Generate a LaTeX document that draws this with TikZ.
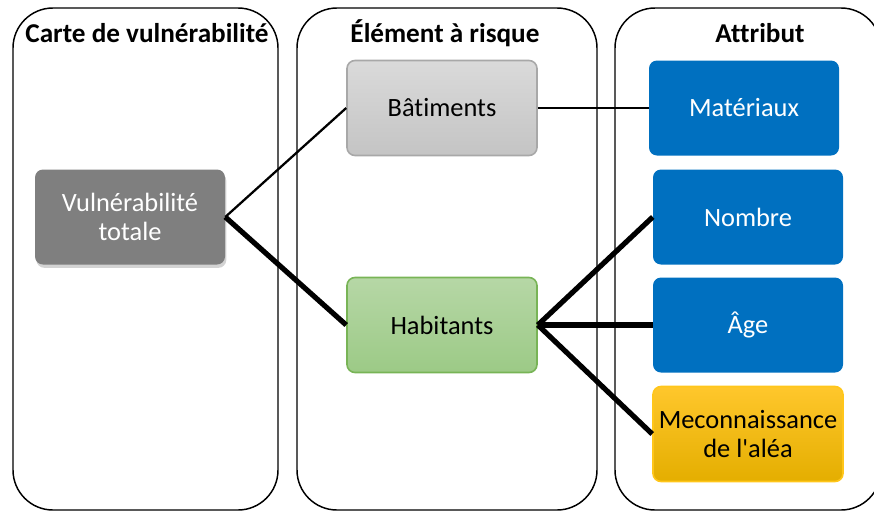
\documentclass[tikz,border=0pt]{standalone}
\usepackage{fontspec}
\setmainfont{Carlito}[Ligatures={NoCommon}]
\usepackage{xcolor}
\usepackage{tikz}
\usetikzlibrary{shadows}

\definecolor{vulngray}{HTML}{7F7F7F}
\definecolor{battop}{HTML}{DADADA}
\definecolor{batbot}{HTML}{C4C4C4}
\definecolor{batline}{HTML}{A8A8A8}
\definecolor{habtop}{HTML}{B6D7A6}
\definecolor{habbot}{HTML}{9CCA86}
\definecolor{habline}{HTML}{78B456}
\definecolor{attrblue}{HTML}{0070C0}
\definecolor{mectop}{HTML}{FFC72C}
\definecolor{mecbot}{HTML}{E4AE00}
\definecolor{mecline}{HTML}{FFC61A}

\begin{document}
\begin{tikzpicture}[x=0.75pt,y=-0.75pt,
    panel/.style={draw,line width=1.1pt,rounded corners=30pt},
    head/.style={anchor=base,font=\fontsize{20.4}{22}\selectfont\bfseries},
    box/.style={rounded corners=6pt,minimum width=142.5pt,minimum height=71.25pt,
      inner sep=0pt,align=center,font=\fontsize{19.8}{22}\selectfont},
    attr/.style={box,fill=attrblue,text=white},
    thin/.style={line width=1.7pt},
    thick/.style={line width=3.9pt}]
  \useasboundingbox (0,0) rectangle (874,511);
  \clip (0,0) rectangle (874,511);
  % columns
  \draw[panel] (13,8) rectangle (278,510);
  \draw[panel] (297,8) rectangle (597,510);
  \draw[panel] (615,8) rectangle (881,510);
  \node[head] (h1) at (147,42) {Carte de vulnérabilité};
  \node[head] (h2) at (445,42) {Élément à risque};
  \node[head] (h3) at (760,42) {Attribut};
  % boxes
  \node[box,fill=vulngray,text=white,
    drop shadow={opacity=0.35,shadow xshift=1pt,shadow yshift=-2.5pt}]
    (vuln) at (130,217) {Vulnérabilité\\totale};
  \node[box,top color=battop,bottom color=batbot,draw=batline,line width=1.2pt]
    (bat) at (442,108) {Bâtiments};
  \node[box,top color=habtop,bottom color=habbot,draw=habline,line width=1.2pt]
    (hab) at (442,325) {Habitants};
  \node[attr] (mat) at (744,108) {Matériaux};
  \node[attr] (nom) at (748,217) {Nombre};
  \node[attr] (age) at (748,325) {Âge};
  \node[box,top color=mectop,bottom color=mecbot,draw=mecline,line width=1.2pt]
    (mec) at (748,434) {Meconnaissance\\de l\textquotesingle aléa};
  % links
  \draw[thin] (vuln.east) -- (bat.west);
  \draw[thick] (vuln.east) -- (hab.west);
  \draw[thin] (bat.east) -- (mat.west);
  \draw[thick] (hab.east) -- (nom.west);
  \draw[thick] (hab.east) -- (age.west);
  \draw[thick] (hab.east) -- (mec.west);
\end{tikzpicture}
\end{document}
